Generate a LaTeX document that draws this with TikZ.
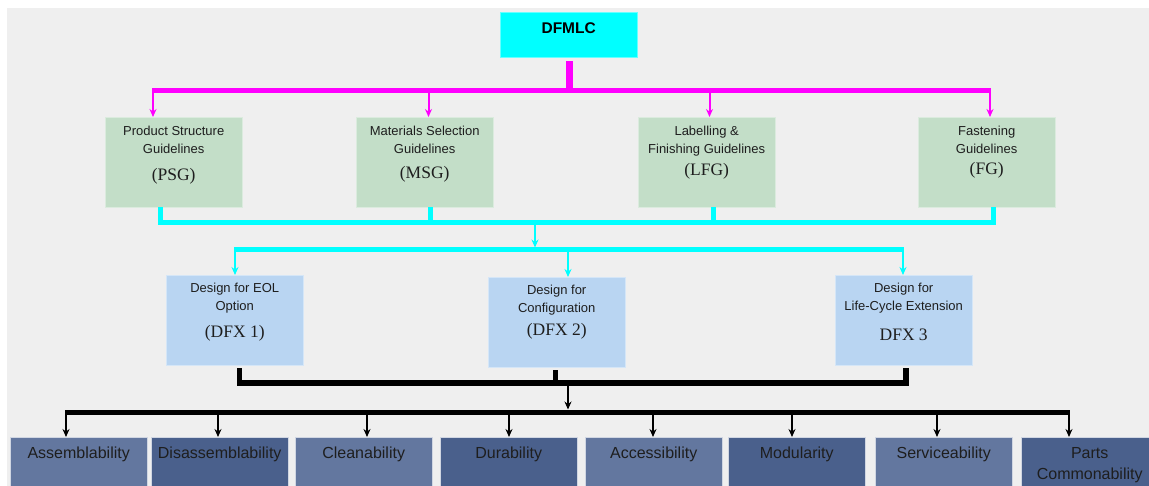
\documentclass[tikz,border=0pt]{standalone}
\usepackage{fontspec}
\setmainfont{Liberation Serif}
\setsansfont{Liberation Sans}
\usetikzlibrary{arrows.meta,positioning}
\definecolor{bggray}{RGB}{239,239,239}
\definecolor{topcyan}{RGB}{0,255,255}
\definecolor{linkcyan}{RGB}{0,255,255}
\definecolor{linkmag}{RGB}{255,0,255}
\definecolor{guidegreen}{RGB}{195,222,200}
\definecolor{dfxblue}{RGB}{185,213,242}
\definecolor{proplight}{RGB}{99,119,159}
\definecolor{propdark}{RGB}{74,96,140}
\definecolor{boxtext}{RGB}{30,30,30}
\newcommand{\shortname}[1]{{\rmfamily\fontsize{17.5}{21}\selectfont #1}}

\tikzset{
  bus/.style={line width=5pt},
  stub/.style={line width=7pt},
  feed/.style={line width=2pt,-{Stealth[length=8pt,width=7pt]}},
  topbox/.style={fill=topcyan,draw=topcyan!60!white,minimum width=137pt,minimum height=45pt,inner sep=0pt,anchor=north west},
  gbox/.style={fill=guidegreen,draw=guidegreen!60!white,minimum width=137pt,minimum height=90pt,inner sep=0pt,anchor=north west},
  dbox/.style={fill=dfxblue,draw=dfxblue!60!white,minimum width=137pt,minimum height=90pt,inner sep=0pt,anchor=north west},
  pbox/.style={draw=white!70!proplight,minimum width=137pt,minimum height=63pt,inner sep=0pt,anchor=north west},
  toptext/.style={font=\sffamily\bfseries\fontsize{15.5}{18}\selectfont,inner sep=0pt,anchor=north},
  gtext/.style={font=\sffamily\fontsize{13}{18}\selectfont,text=boxtext,align=center,inner sep=0pt,anchor=north},
  ptext/.style={font=\sffamily\fontsize{16}{21}\selectfont,text=boxtext,align=center,inner sep=0pt,anchor=north}
}

\begin{document}
\begin{tikzpicture}[x=1pt,y=-1pt]
\useasboundingbox (0,0) rectangle (1149,486);
\clip (0,0) rectangle (1149,486);
\fill[bggray] (7,8) rectangle (1149,486);

% top node
\node[topbox] (dfmlc) at (500,12) {};
\node[toptext, below=10.8pt of dfmlc.north] (dfmlct) {DFMLC};

% guideline boxes
\node[gbox] (psg) at (105,117) {};
\node[gbox] (msg) at (356,117) {};
\node[gbox] (lfg) at (638,117) {};
\node[gbox] (fg) at (918,117) {};
\node[gtext, below=9pt of psg.north] (psgt) {Product Structure\\Guidelines\\[9pt]\shortname{(PSG)}};
\node[gtext, below=9pt of msg.north] (msgt) {Materials Selection\\Guidelines\\[6.5pt]\shortname{(MSG)}};
\node[gtext, below=9pt of lfg.north] (lfgt) {Labelling \&\\Finishing Guidelines\\[4pt]\shortname{(LFG)}};
\node[gtext, below=9pt of fg.north] (fgt) {Fastening\\Guidelines\\[3pt]\shortname{(FG)}};

% design for X boxes
\node[dbox] (dfx1) at (166,275) {};
\node[dbox] (dfx2) at (488,277) {};
\node[dbox] (dfx3) at (835,275) {};
\node[gtext, below=8pt of dfx1.north] (dfx1t) {Design for EOL\\Option\\[9pt]\shortname{(DFX 1)}};
\node[gtext, below=8pt of dfx2.north] (dfx2t) {Design for\\Configuration\\[5pt]\shortname{(DFX 2)}};
\node[gtext, below=8pt of dfx3.north] (dfx3t) {Design for\\Life-Cycle Extension\\[12pt]\shortname{DFX 3}};

% magenta tree
\coordinate (mbus) at (569,90.5);
\coordinate (m1) at (153,90.5);
\coordinate (m2) at (428.5,90.5);
\coordinate (m3) at (709.5,90.5);
\coordinate (m4) at (990,90.5);
\draw[stub, linkmag, shorten <=4pt] (mbus |- dfmlc.south) -- (mbus);
\draw[bus, linkmag, shorten <=-1pt, shorten >=-1pt] (m1) -- (m4);
\draw[feed, linkmag] (m1) -- (m1 |- psg.north);
\draw[feed, linkmag] (m2) -- (m2 |- msg.north);
\draw[feed, linkmag] (m3) -- (m3 |- lfg.north);
\draw[feed, linkmag] (m4) -- (m4 |- fg.north);

% cyan tree
\coordinate (c1) at (160,223);
\coordinate (c2) at (430.5,223);
\coordinate (c3) at (713,223);
\coordinate (c4) at (993,223);
\coordinate (cmid) at (535,223);
\coordinate (d1) at (235,250);
\coordinate (d2) at (568,250);
\coordinate (d3) at (903,250);
\draw[bus, linkcyan] (c1 |- psg.south) -- (c1) -- (c4) -- (c4 |- fg.south);
\draw[bus, linkcyan] (c2 |- msg.south) -- (c2);
\draw[bus, linkcyan] (c3 |- lfg.south) -- (c3);
\draw[feed, linkcyan, shorten >=2.5pt] (cmid) -- (cmid |- d1);
\draw[bus, linkcyan, shorten <=-1pt, shorten >=-1pt] (d1) -- (d3);
\draw[feed, linkcyan] (d1) -- (d1 |- dfx1.north);
\draw[feed, linkcyan] (d2) -- (d2 |- dfx2.north);
\draw[feed, linkcyan] (d3) -- (d3 |- dfx3.north);

% black tree
\coordinate (k1) at (239.5,383);
\coordinate (k2) at (555.7,383);
\coordinate (k3) at (906,383);
\coordinate (kmid) at (568,383);
\coordinate (b1) at (66,412);
\coordinate (b8) at (1069,412);
\draw[bus, line width=5.5pt] ([yshift=-3pt]k1 |- dfx1.south) -- (k1) -- (k3) -- ([yshift=-3pt]k3 |- dfx3.south);
\draw[bus, line width=5.5pt] ([yshift=-3pt]k2 |- dfx2.south) -- (k2);
\draw[feed, shorten >=2.5pt] (kmid) -- (kmid |- b1);
\draw[bus, shorten <=-1pt, shorten >=-1pt] (b1) -- (b8);

% property boxes
\foreach \nm/\x/\ax/\col/\txt in {asm/10/66/proplight/Assemblability,
    dis/151/218/propdark/Disassemblability,
    cln/295/367/proplight/Cleanability,
    dur/440/509/propdark/Durability,
    acc/585/653/proplight/Accessibility,
    mod/728/792/propdark/Modularity,
    ser/875/937/proplight/Serviceability,
    pco/1021/1069/propdark/{Parts\\Commonability}}{
  \node[pbox, fill=\col] (\nm) at (\x,437) {};
  \node[ptext, below=10pt of \nm.north] (t\nm) {\txt};
  \coordinate (a\nm) at (\ax,412);
  \draw[feed] (a\nm) -- (a\nm |- \nm.north);
}
\end{tikzpicture}
\end{document}
